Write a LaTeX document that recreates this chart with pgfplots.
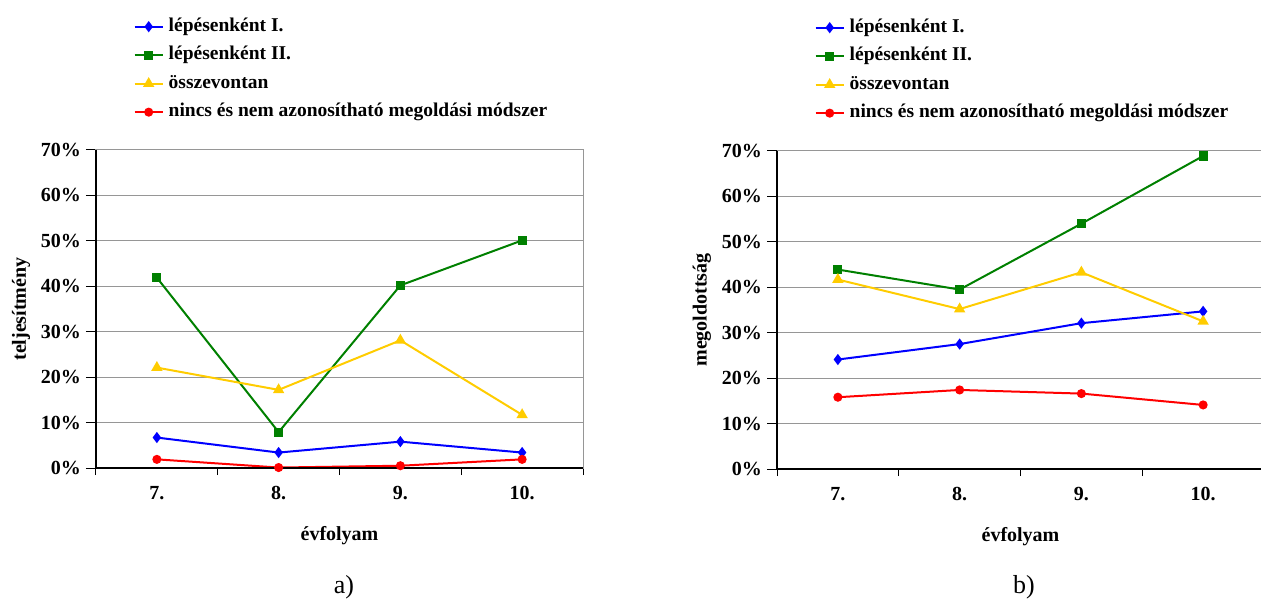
\documentclass[border=0pt]{standalone}
\usepackage{fontspec}
\setmainfont{Liberation Serif}
\usepackage{pgfplots}
\pgfplotsset{compat=1.18}

\definecolor{cblue}{RGB}{0,0,255}
\definecolor{cgreen}{RGB}{0,128,0}
\definecolor{cyellow}{RGB}{255,204,0}
\definecolor{cred}{RGB}{255,0,0}
\definecolor{cgrid}{RGB}{150,150,150}

\pgfplotsset{
  myaxis/.style={
    scale only axis, width=487pt, height=318pt,
    clip=false,
    xmin=0.5, xmax=4.5, ymin=0, ymax=70,
    xtick={1,2,3,4}, xticklabels={7.,8.,9.,10.},
    major x tick style={draw=none},
    minor xtick={0.5,1.5,2.5,3.5,4.5},
    minor x tick style={black, line width=1pt},
    minor tick length=7pt,
    ytick={0,10,20,30,40,50,60,70},
    yticklabels={0\%,10\%,20\%,30\%,40\%,50\%,60\%,70\%},
    major y tick style={black, line width=1pt},
    major tick length=10pt,
    tick align=outside, tick pos=left,
    ymajorgrids, grid style={cgrid, line width=1pt},
    axis line style={cgrid, line width=1pt},
    tick label style={font=\fontsize{20}{22}\selectfont\bfseries, inner sep=0pt},
    yticklabel style={anchor=east, xshift=-5pt},
    xticklabel style={anchor=center, yshift=-15pt},
    every axis x label/.style={at={(axis description cs:0.5,-0.214)}, anchor=center, font=\fontsize{20}{22}\selectfont\bfseries},
    every axis y label/.style={at={(axis description cs:-0.154,0.5)}, rotate=90, anchor=center, font=\fontsize{20}{22}\selectfont\bfseries},
    xlabel={évfolyam},
    legend image code/.code={\draw[mark repeat=2,mark phase=2,##1] plot coordinates {(0pt,0pt) (14pt,0pt) (28pt,0pt)};},
    legend cell align=left,
    legend style={at={(axis description cs:0.077,1.416)}, anchor=north west,
      draw=none, fill=none, inner sep=0pt, row sep=11pt, column sep=5pt,
      font=\fontsize{19.5}{22}\selectfont\bfseries,
      nodes={inner sep=0pt, text height=13.5pt, text depth=4pt}},
  },
  sblue/.style={cblue, line width=2pt, mark=diamond*, mark size=4pt, mark options={solid, fill=cblue, draw=cblue}},
  sgreen/.style={cgreen, line width=2pt, mark=square*, mark size=3.6pt, mark options={solid, fill=cgreen, draw=cgreen}},
  syellow/.style={cyellow, line width=2pt, mark=triangle*, mark size=4.6pt, mark options={solid, fill=cyellow, draw=cyellow}},
  sred/.style={cred, line width=2pt, mark=*, mark size=3.5pt, mark options={solid, fill=cred, draw=cred}},
}

\begin{document}
\begin{tikzpicture}
\useasboundingbox (0,0) rectangle (1261pt,600pt);
\clip (0,0) rectangle (1261pt,600pt);

\begin{axis}[myaxis, at={(96pt,132pt)}, anchor=south west, ylabel={teljesítmény}]
\addplot[sblue] coordinates {(1,6.7) (2,3.4) (3,5.8) (4,3.4)};
\addlegendentry{lépésenként I.}
\addplot[sgreen] coordinates {(1,41.9) (2,7.9) (3,40.2) (4,50.1)};
\addlegendentry{lépésenként II.}
\addplot[syellow] coordinates {(1,22.1) (2,17.2) (3,28.1) (4,11.7)};
\addlegendentry{összevontan}
\addplot[sred] coordinates {(1,1.9) (2,0.1) (3,0.5) (4,1.9)};
\addlegendentry{nincs és nem azonosítható megoldási módszer}
\draw[black, line width=1.2pt] (rel axis cs:0,1) -- (rel axis cs:0,0) -- (rel axis cs:1,0);
\end{axis}

\begin{axis}[myaxis, at={(777pt,131pt)}, anchor=south west, ylabel={megoldottság},
  axis line style={draw=none}]
\addplot[sblue] coordinates {(1,24.1) (2,27.5) (3,32.1) (4,34.7)};
\addlegendentry{lépésenként I.}
\addplot[sgreen] coordinates {(1,43.9) (2,39.5) (3,54.0) (4,68.9)};
\addlegendentry{lépésenként II.}
\addplot[syellow] coordinates {(1,41.7) (2,35.2) (3,43.3) (4,32.5)};
\addlegendentry{összevontan}
\addplot[sred] coordinates {(1,15.8) (2,17.4) (3,16.6) (4,14.1)};
\addlegendentry{nincs és nem azonosítható megoldási módszer}
\draw[black, line width=1.2pt] (rel axis cs:0,1) -- (rel axis cs:0,0) -- (rel axis cs:1,0);
\end{axis}

\node[font=\fontsize{26}{30}\selectfont] at (344pt,13pt) {a)};
\node[font=\fontsize{26}{30}\selectfont] at (1024pt,13pt) {b)};
\end{tikzpicture}
\end{document}
